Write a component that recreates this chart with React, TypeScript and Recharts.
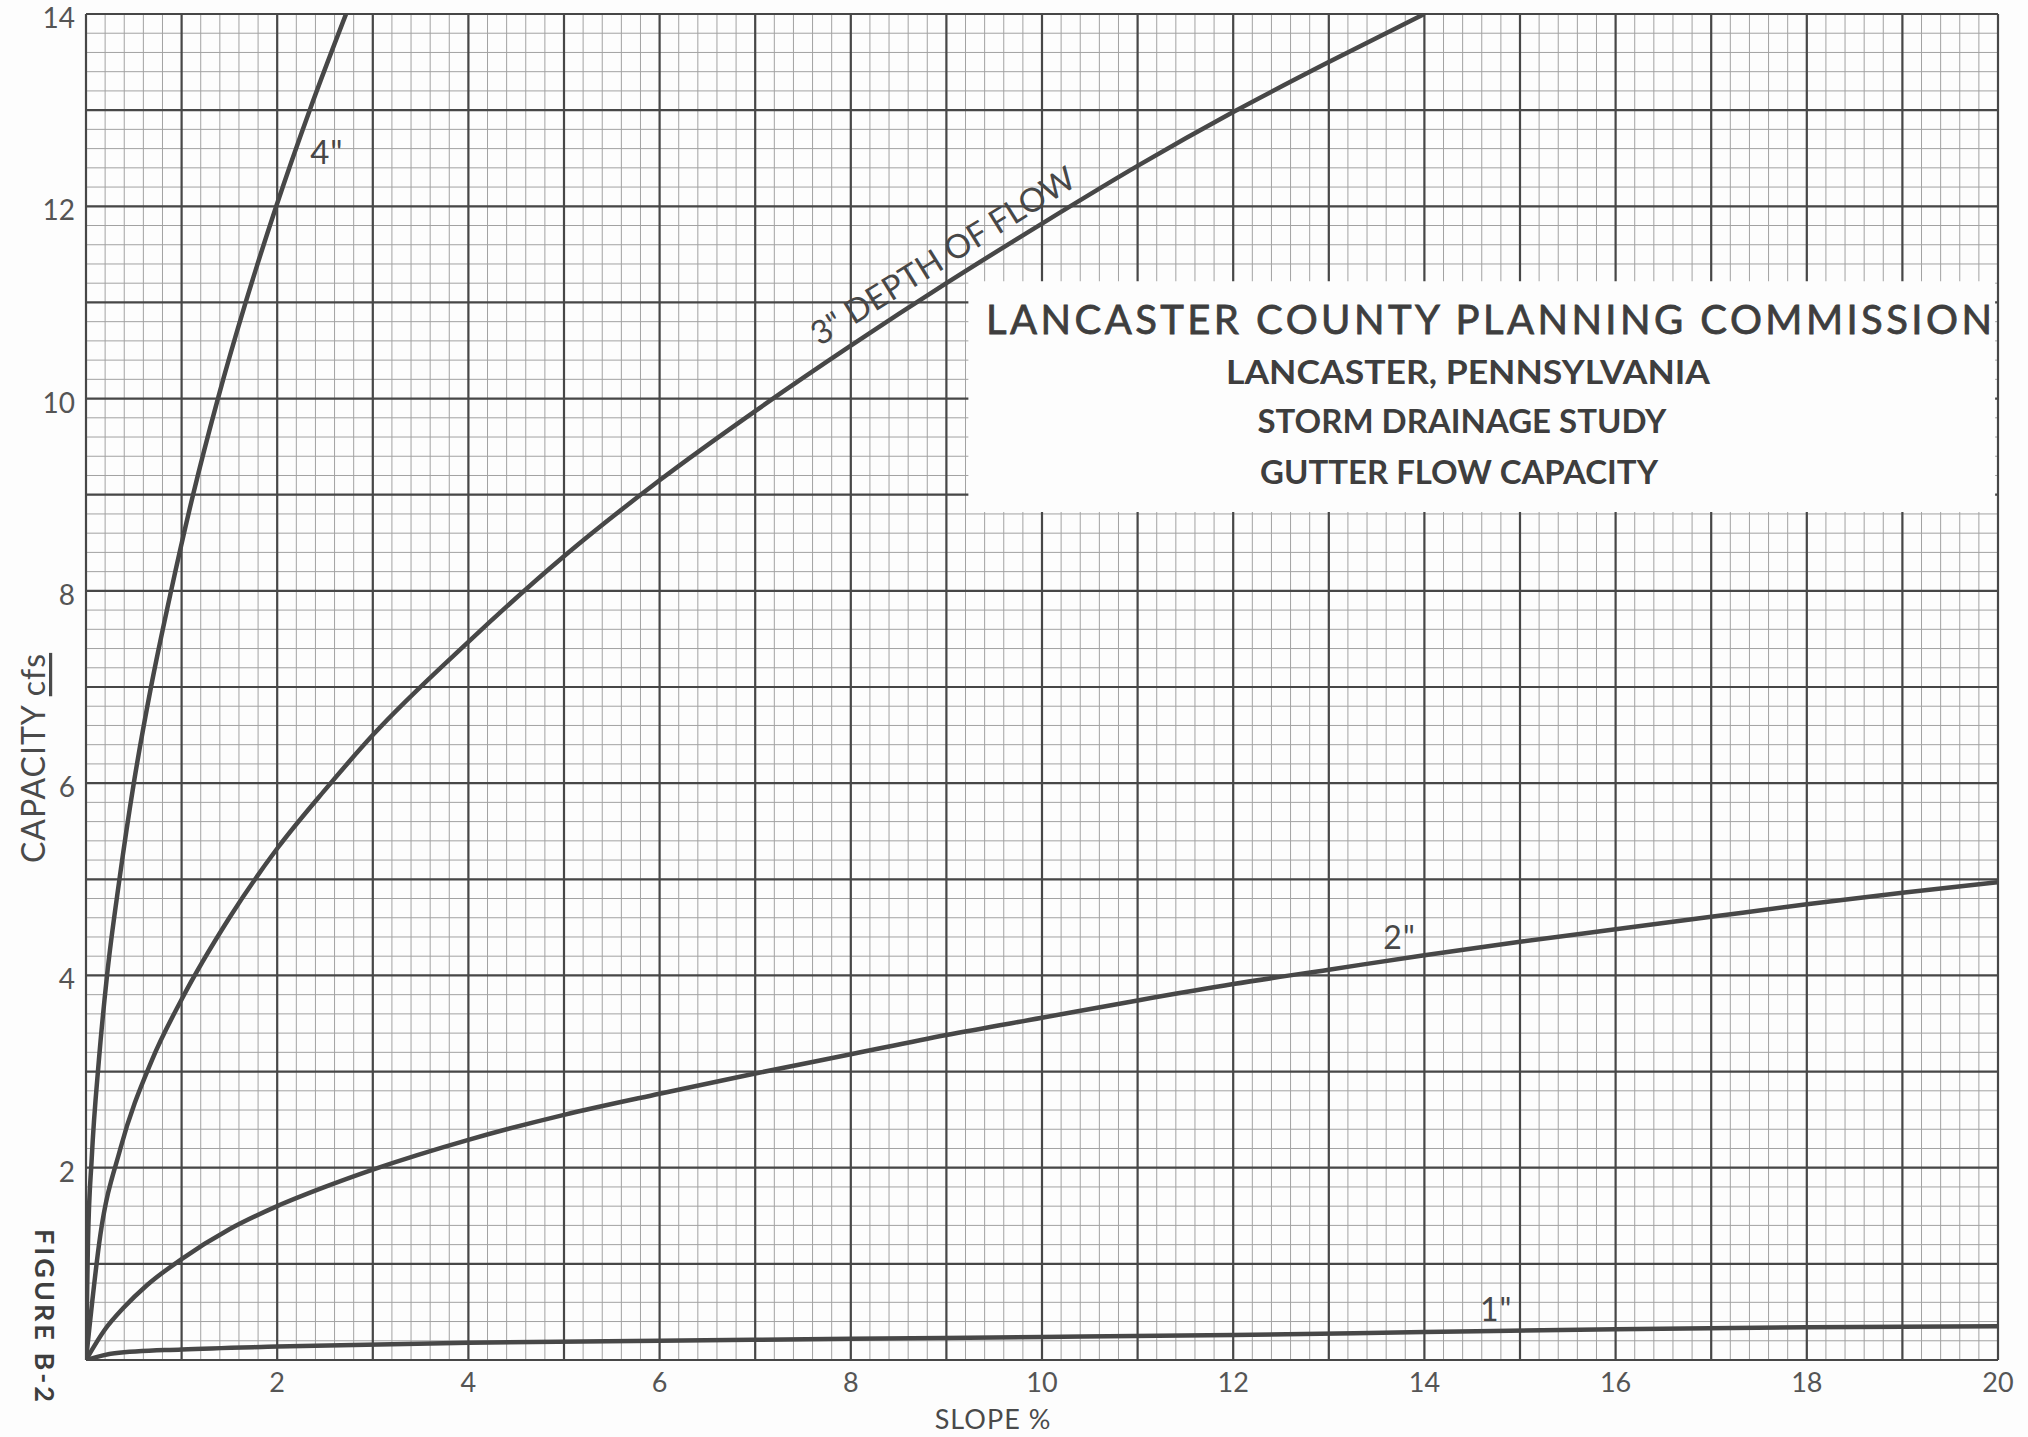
import React from 'react';
import { LineChart, Line, XAxis, YAxis, CartesianGrid, ReferenceArea, ReferenceDot } from 'recharts';

// slope % (x) against capacity cfs (y) for each depth of flow
const slope4 = [0, 0.02, 0.06, 0.135, 0.22, 0.35, 0.5, 0.68, 0.89, 1.12, 1.38, 1.67, 1.99, 2.34, 2.72];
const cap4 = [0, 1.2, 2.1, 3.12, 4, 5, 6, 7, 8, 9, 10, 11, 12, 13, 14];

const slope3 = [0, 0.15, 0.36, 0.69, 1, 1.5, 2, 2.5, 3, 4, 5, 6, 7, 8, 9, 10, 11, 12, 13, 14];
const cap3 = [0, 1.3, 2.2, 3.12, 3.75, 4.6, 5.32, 5.93, 6.5, 7.47, 8.36, 9.15, 9.87, 10.55, 11.2, 11.82, 12.42, 12.98, 13.5, 14];

const slope2 = [0, 0.2, 0.39, 0.64, 1, 1.5, 2, 2.5, 3, 4, 5, 6, 7, 8, 9, 10, 11, 12, 13, 14, 15, 16, 17, 18, 19, 20];
const cap2 = [0, 0.32, 0.54, 0.78, 1.05, 1.36, 1.6, 1.8, 1.98, 2.29, 2.55, 2.77, 2.98, 3.18, 3.38, 3.56, 3.74, 3.91, 4.06, 4.21, 4.35, 4.48, 4.61, 4.74, 4.86, 4.97];

const slope1 = [0, 0.3, 1, 2, 4, 6, 8, 10, 12, 14, 16, 18, 20];
const cap1 = [0, 0.07, 0.11, 0.14, 0.18, 0.2, 0.22, 0.24, 0.26, 0.29, 0.32, 0.34, 0.35];

const xTicks = [2, 4, 6, 8, 10, 12, 14, 16, 18, 20];
const yTicks = [2, 4, 6, 8, 10, 12, 14];

const X_MAX = 20;
const Y_MAX = 14;

const W = 2028;
const H = 1437;
const INK = '#474747';
const FONT = 'Lato, "DejaVu Sans", sans-serif';

const toPoints = (xs: number[], ys: number[]) => xs.map((x, i) => ({ x, y: ys[i] }));

// grid steps: heavy lines every unit, light lines every 0.2
const steps = (max: number, step: number) =>
  Array.from({ length: Math.round(max / step) + 1 }, (_, i) => +(i * step).toFixed(2));

const majorX = steps(X_MAX, 1);
const minorX = steps(X_MAX, 0.2);
const majorY = steps(Y_MAX, 1);
const minorY = steps(Y_MAX, 0.2);

const isFn = (f: any) => typeof f === 'function';

const vGen = (vals: number[]) => ({ xAxis, offset }: any) =>
  vals.map((v) => (xAxis && isFn(xAxis.scale) ? xAxis.scale(v) : offset.left + (offset.width * v) / X_MAX));
const hGen = (vals: number[]) => ({ yAxis, offset }: any) =>
  vals.map((v) =>
    yAxis && isFn(yAxis.scale) ? yAxis.scale(v) : offset.top + offset.height - (offset.height * v) / Y_MAX
  );

// props renamed (txt / rot / fs / len) so Label's own angle/value don't override them
const CurveLabel = ({ viewBox, txt, rot = 0, fs = 32, len }: any) => {
  if (!viewBox) return null;
  const cx = viewBox.x + (viewBox.width || 0) / 2;
  const cy = viewBox.y + (viewBox.height || 0) / 2;
  return (
    <text
      x={cx}
      y={cy}
      textAnchor="middle"
      dominantBaseline="central"
      transform={`rotate(${rot} ${cx} ${cy})`}
      fontSize={fs}
      fontFamily={FONT}
      fill={INK}
      letterSpacing={1}
      textLength={len}
      lengthAdjust={len ? 'spacing' : undefined}
    >
      {txt}
    </text>
  );
};

export default function App() {
  return (
    <div style={{ position: 'absolute', left: 0, top: 0, width: W, height: H, background: '#fdfdfd' }}>
      <LineChart width={W} height={H} margin={{ top: 14, right: 30, bottom: 0, left: 0 }}>
        <CartesianGrid
          stroke="#a2a2a2"
          strokeWidth={1}
          verticalCoordinatesGenerator={vGen(minorX)}
          horizontalCoordinatesGenerator={hGen(minorY)}
        />
        <CartesianGrid
          stroke={INK}
          strokeWidth={2.2}
          verticalCoordinatesGenerator={vGen(majorX)}
          horizontalCoordinatesGenerator={hGen(majorY)}
        />
        <XAxis
          type="number"
          dataKey="x"
          domain={[0, X_MAX]}
          ticks={xTicks}
          interval={0}
          allowDataOverflow
          height={77}
          axisLine={false}
          tickLine={false}
          tickSize={0}
          tickMargin={13}
          tick={{ fontSize: 27, fill: '#555', fontFamily: FONT }}
        />
        <YAxis
          type="number"
          domain={[0, Y_MAX]}
          ticks={yTicks}
          interval={0}
          allowDataOverflow
          width={86}
          axisLine={false}
          tickLine={false}
          tickSize={0}
          tickMargin={11}
          tick={{ fontSize: 28, fill: '#555', fontFamily: FONT, dy: 4 }}
        />
        <ReferenceArea x1={9.23} x2={19.97} y1={8.82} y2={11.22} fill="#fdfdfd" fillOpacity={1} stroke="none" />
        <Line data={toPoints(slope4, cap4)} dataKey="y" type="monotone" stroke={INK} strokeWidth={4.5} dot={false} isAnimationActive={false} />
        <Line data={toPoints(slope3, cap3)} dataKey="y" type="monotone" stroke={INK} strokeWidth={4.5} dot={false} isAnimationActive={false} />
        <Line data={toPoints(slope2, cap2)} dataKey="y" type="monotone" stroke={INK} strokeWidth={4.5} dot={false} isAnimationActive={false} />
        <Line data={toPoints(slope1, cap1)} dataKey="y" type="monotone" stroke={INK} strokeWidth={4.5} dot={false} isAnimationActive={false} />
        <ReferenceDot x={2.52} y={12.57} r={0} fill="none" stroke="none" label={<CurveLabel txt={'4"'} fs={33} />} />
        <ReferenceDot x={8.96} y={11.5} r={0} fill="none" stroke="none" label={<CurveLabel txt={'3" DEPTH OF FLOW'} rot={-32} fs={33} len={306} />} />
        <ReferenceDot x={13.74} y={4.4} r={0} fill="none" stroke="none" label={<CurveLabel txt={'2"'} />} />
        <ReferenceDot x={14.75} y={0.54} r={0} fill="none" stroke="none" label={<CurveLabel txt={'1"'} />} />
      </LineChart>

      <svg width={W} height={H} style={{ position: 'absolute', left: 0, top: 0, pointerEvents: 'none' }}>
        <g fill="#3e3e3e" fontFamily={FONT} textAnchor="middle" dominantBaseline="central">
          <text x={1489} y={319} fontSize={40} fontWeight={400} stroke="#3e3e3e" strokeWidth={0.8} textLength={1006} lengthAdjust="spacing">
            LANCASTER COUNTY PLANNING COMMISSION
          </text>
          <text x={1468} y={371} fontSize={32} fontWeight={700} textLength={484} lengthAdjust="spacingAndGlyphs">
            LANCASTER, PENNSYLVANIA
          </text>
          <text x={1462} y={420} fontSize={32} fontWeight={700} textLength={409} lengthAdjust="spacingAndGlyphs">
            STORM DRAINAGE STUDY
          </text>
          <text x={1459} y={471} fontSize={32} fontWeight={700} textLength={398} lengthAdjust="spacingAndGlyphs">
            GUTTER FLOW CAPACITY
          </text>
        </g>
        <text x={993} y={1418} fontSize={27} fontFamily={FONT} fill="#4a4a4a" textAnchor="middle" dominantBaseline="central" letterSpacing={1}>
          SLOPE %
        </text>
        <text
          x={32}
          y={758}
          fontSize={32}
          fontFamily={FONT}
          fill="#4a4a4a"
          textAnchor="middle"
          dominantBaseline="central"
          letterSpacing={1}
          transform="rotate(-90 32 758)"
        >
          CAPACITY <tspan textDecoration="underline">cfs</tspan>
        </text>
        <text
          x={45}
          y={1317}
          fontSize={27}
          fontWeight={700}
          fontFamily={FONT}
          fill="#3e3e3e"
          textAnchor="middle"
          dominantBaseline="central"
          letterSpacing={3}
          transform="rotate(90 45 1317)"
        >
          FIGURE B-2
        </text>
      </svg>
    </div>
  );
}
